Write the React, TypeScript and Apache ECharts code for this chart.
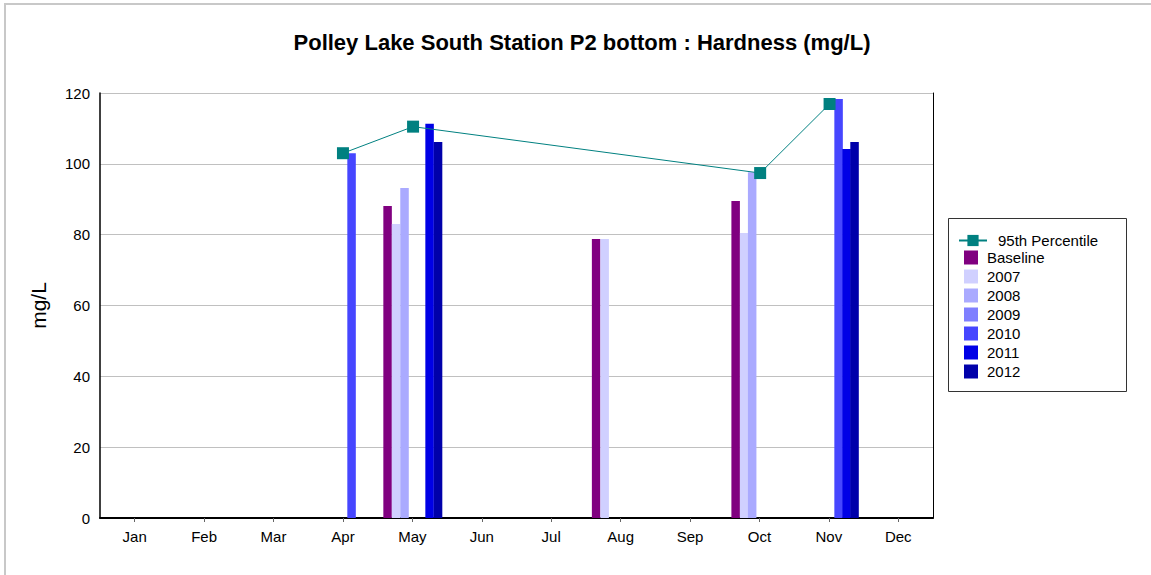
import React, { useEffect, useRef } from "react";
import * as echarts from "echarts";

const months = ["Jan", "Feb", "Mar", "Apr", "May", "Jun", "Jul", "Aug", "Sep", "Oct", "Nov", "Dec"];
const yTicks = [0, 20, 40, 60, 80, 100, 120];

// x positions are in month units (0 = start of Jan, 12 = end of Dec)
const p95: [number, number][] = [[3.5, 103], [4.51, 110.5], [9.51, 97.4], [10.51, 116.9]];
const baseline: [number, number][] = [[4.143, 88.1], [7.147, 78.8], [9.157, 89.5]];
const y2007: [number, number][] = [[4.265, 83], [7.27, 78.8], [9.28, 80.5]];
const y2008: [number, number][] = [[4.387, 93.2], [9.395, 97.6]];
const y2009: [number, number][] = [];
const y2010: [number, number][] = [[3.624, 103], [10.64, 118.3]];
const y2011: [number, number][] = [[4.748, 111.3], [10.755, 104.2]];
const y2012: [number, number][] = [[4.87, 106.2], [10.87, 106.2]];

const barSeries = [
  { name: "Baseline", data: baseline, color: "#800080" },
  { name: "2007", data: y2007, color: "#d0d0ff" },
  { name: "2008", data: y2008, color: "#aaaaff" },
  { name: "2009", data: y2009, color: "#7f7fff" },
  { name: "2010", data: y2010, color: "#4646ff" },
  { name: "2011", data: y2011, color: "#0000e6" },
  { name: "2012", data: y2012, color: "#0000aa" },
];

const FONT = "'Liberation Sans', Arial, sans-serif";

export default function App() {
  const ref = useRef<HTMLDivElement>(null);
  useEffect(() => {
    if (!ref.current) return;
    const chart = echarts.init(ref.current, undefined, { renderer: "svg" });
    const option: any = {
      animation: false,
      backgroundColor: "#ffffff",
      textStyle: { fontFamily: FONT, color: "#000" },
      title: {
        text: "Polley Lake South Station P2 bottom : Hardness (mg/L)",
        left: 577,
        top: 26,
        textAlign: "center",
        textStyle: { fontSize: 22, fontWeight: "bold", color: "#000", fontFamily: FONT },
      },
      grid: { left: 100, top: 93, width: 833, height: 425, containLabel: false },
      legend: [
        {
          data: ["95th Percentile"],
          orient: "vertical",
          left: 958,
          top: 233,
          padding: 0,
          itemWidth: 28,
          itemHeight: 14,
          itemGap: 5,
          textStyle: { fontSize: 15, color: "#000", fontFamily: FONT, padding: [0, 0, 0, 6] },
        },
        {
          data: barSeries.map((s) => ({ name: s.name, icon: "rect" })),
          orient: "vertical",
          left: 964,
          top: 250,
          padding: 0,
          itemWidth: 14,
          itemHeight: 14,
          itemGap: 4,
          textStyle: { fontSize: 15, color: "#000", fontFamily: FONT, padding: [0, 0, 0, 4] },
        },
      ],
      graphic: [
        {
          type: "rect",
          shape: { x: 5, y: 4, width: 1200, height: 620 },
          style: { fill: "none", stroke: "#c8c8c8", lineWidth: 2 },
          silent: true,
        },
        {
          type: "rect",
          shape: { x: 948.5, y: 218.5, width: 178, height: 173 },
          style: { fill: "none", stroke: "#333", lineWidth: 1 },
          silent: true,
        },
      ],
      xAxis: [
        {
          type: "category",
          data: months,
          boundaryGap: true,
          axisLine: { show: true, lineStyle: { color: "#000", width: 2 } },
          axisTick: { show: true, alignWithLabel: true, length: 4, lineStyle: { color: "#666" } },
          axisLabel: { fontSize: 15, color: "#000", margin: 11, fontFamily: FONT },
          splitLine: { show: false },
        },
        {
          type: "value",
          min: 0,
          max: 12,
          show: false,
          splitLine: { show: false },
        },
      ],
      yAxis: [
        {
          type: "value",
          min: 0,
          max: 120,
          interval: 20,
          name: "mg/L",
          nameLocation: "middle",
          nameGap: 51,
          nameTextStyle: { fontSize: 21, color: "#000", fontFamily: FONT },
          axisLine: { show: true, lineStyle: { color: "#000", width: 1.5 } },
          axisTick: { show: false },
          axisLabel: { fontSize: 15, color: "#000", margin: 10, fontFamily: FONT },
          splitLine: { show: true, lineStyle: { color: "#c0c0c0", width: 1 } },
        },
        {
          type: "value",
          min: 0,
          max: 120,
          interval: 20,
          position: "right",
          axisLine: { show: true, lineStyle: { color: "#000", width: 1 } },
          axisTick: { show: false },
          axisLabel: { show: false },
          splitLine: { show: false },
        },
      ],
      series: [
        {
          name: "95th Percentile",
          type: "line",
          xAxisIndex: 1,
          yAxisIndex: 0,
          data: p95,
          symbol: "rect",
          symbolSize: 12,
          itemStyle: { color: "#008080" },
          lineStyle: { color: "#008080", width: 1 },
          z: 5,
        },
        ...barSeries.map((s) => ({
          name: s.name,
          type: "custom",
          xAxisIndex: 1,
          yAxisIndex: 0,
          data: s.data,
          itemStyle: { color: s.color },
          encode: { x: 0, y: 1 },
          z: 3,
          renderItem: (params: any, api: any) => {
            const x = api.value(0);
            const y = api.value(1);
            const p0 = api.coord([x, 0]);
            const p1 = api.coord([x, y]);
            const w = api.size([0.1225, 0])[0];
            return {
              type: "rect",
              shape: { x: p0[0] - w / 2, y: p1[1], width: w, height: p0[1] - p1[1] },
              style: { fill: s.color },
            };
          },
        })),
      ],
    };
    chart.setOption(option);
    return () => chart.dispose();
  }, []);
  return (
    <div
      ref={ref}
      style={{ position: "absolute", left: 0, top: 0, width: 1151, height: 575 }}
    />
  );
}
